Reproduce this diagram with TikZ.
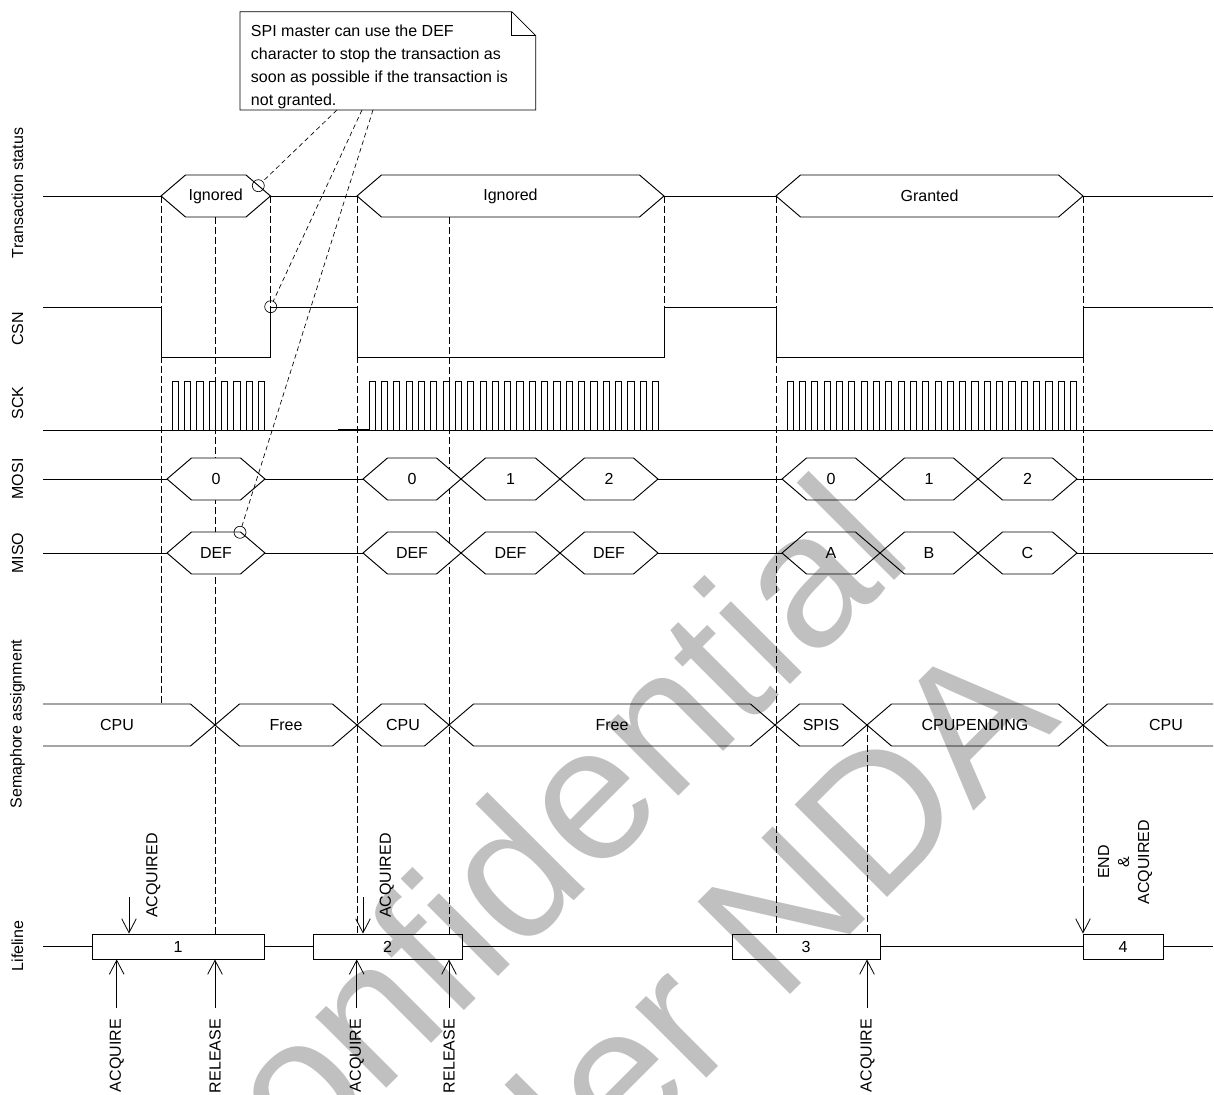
\documentclass[tikz,border=0pt]{standalone}
\usepackage{fontspec}
\setmainfont{Liberation Sans}
\usetikzlibrary{arrows.meta,positioning,calc}
\definecolor{wmgray}{RGB}{192,192,192}

% one bus value: x1, x2, y, node name, text
\newcommand{\busseg}[5]{%
  \draw[bus] (#1,#3) -- ({#1+24.5},{#3-21}) -- ({#2-24.5},{#3-21})
    -- (#2,#3) -- ({#2-24.5},{#3+21}) -- ({#1+24.5},{#3+21}) -- cycle;
  \node (#4) at ({(#1+#2)/2},#3) {#5};}

\tikzset{
  sig/.style={line width=0.7pt},
  guide/.style={line width=0.6pt,dash pattern=on 5pt off 2.5pt},
  notelink/.style={line width=0.5pt,dash pattern=on 3.5pt off 2.5pt},
  bus/.style={line width=0.7pt,fill=white},
  rowlabel/.style={rotate=90},
  evtext/.style={rotate=90,inner sep=0pt},
  evarrow/.style={line width=0.6pt,-{Straight Barb[length=10.5pt,width=11pt]}},
  lifebox/.style={draw,fill=white,line width=0.7pt,minimum height=18.75pt,inner sep=0pt},
  ring/.style={circle,draw,line width=0.5pt,minimum size=9pt,inner sep=0pt},
  wm/.style={rotate=45,text=wmgray,inner sep=0pt,font=\fontsize{142.5}{150}\selectfont}
}

\begin{document}
\begin{tikzpicture}[x=0.75pt,y=-0.75pt,font=\fontsize{12}{14}\selectfont]
  \useasboundingbox (0,0) rectangle (1214,1095);
  \clip (0,0) rectangle (1214,1095);

  % --- guide lines (under the bus values) -------------------------------
  \draw[guide] (161,196) -- (161,704);
  \draw[guide] (215,217) -- (215,934);
  \draw[guide] (270.5,196) -- (270.5,307);
  \draw[guide] (357,196) -- (357,934);
  \draw[guide] (449,217) -- (449,934);
  \draw[guide] (664,196) -- (664,307);
  \draw[guide] (776,196) -- (776,934);
  \draw[guide] (867,725) -- (867,934);
  \draw[guide] (1083,196) -- (1083,893);

  % --- row labels -------------------------------------------------------
  \node[rowlabel] (lblts) at (17.5,193) {Transaction status};
  \node[rowlabel] (lblcsn) at (17.5,329) {CSN};
  \node[rowlabel] (lblsck) at (17.5,403) {SCK};
  \node[rowlabel] (lblmosi) at (17.5,479) {MOSI};
  \node[rowlabel] (lblmiso) at (17.5,553) {MISO};
  \node[rowlabel] (lblsem) at (17.5,724) {Semaphore assignment};
  \node[rowlabel] (lbllife) at (17.5,946) {Lifeline};

  % --- transaction status -----------------------------------------------
  \draw[sig] (43,196) -- (1213,196);
  \busseg{161}{270.5}{196}{ts1}{Ignored}
  \busseg{357}{664}{196}{ts2}{Ignored}
  \busseg{776}{1083}{196}{ts3}{Granted}

  % --- CSN --------------------------------------------------------------
  \draw[sig] (43,307) -- (161,307) -- (161,357) -- (270.5,357) -- (270.5,307)
    -- (357,307) -- (357,357) -- (664,357) -- (664,307) -- (776,307)
    -- (776,357) -- (1083,357) -- (1083,307) -- (1213,307);

  % --- SCK --------------------------------------------------------------
  \draw[sig] (43,430) -- (1213,430);
  \draw[line width=1.4pt] (338,430) -- (369,430);
  \foreach \i in {0,...,7}
    \draw[sig] ({172.3+\i*12.33},430) -- ({172.3+\i*12.33},381)
      -- ({178.5+\i*12.33},381) -- ({178.5+\i*12.33},430);
  \foreach \i in {0,...,23}{
    \draw[sig] ({369+\i*12.33},430) -- ({369+\i*12.33},381)
      -- ({375.2+\i*12.33},381) -- ({375.2+\i*12.33},430);
    \draw[sig] ({787+\i*12.33},430) -- ({787+\i*12.33},381)
      -- ({793.2+\i*12.33},381) -- ({793.2+\i*12.33},430);
  }

  % --- MOSI / MISO ------------------------------------------------------
  \draw[sig] (43,479) -- (1213,479);
  \busseg{167}{265}{479}{mosia}{0}
  \busseg{363}{461}{479}{mosib}{0}
  \busseg{461}{560}{479}{mosic}{1}
  \busseg{560}{658}{479}{mosid}{2}
  \busseg{782}{880}{479}{mosie}{0}
  \busseg{880}{978}{479}{mosif}{1}
  \busseg{978}{1077}{479}{mosig}{2}
  \draw[sig] (43,553) -- (1213,553);
  \busseg{167}{265}{553}{misoa}{DEF}
  \busseg{363}{461}{553}{misob}{DEF}
  \busseg{461}{560}{553}{misoc}{DEF}
  \busseg{560}{658}{553}{misod}{DEF}
  \busseg{782}{880}{553}{misoe}{A}
  \busseg{880}{978}{553}{misof}{B}
  \busseg{978}{1077}{553}{misog}{C}

  % --- semaphore assignment ---------------------------------------------
  \draw[sig] (43,704) -- (190.5,704) -- (215,725) -- (190.5,746) -- (43,746);
  \node (sema) at (117,725) {CPU};
  \busseg{215}{357}{725}{semb}{Free}
  \busseg{357}{449}{725}{semc}{CPU}
  \busseg{449}{775}{725}{semd}{Free}
  \busseg{775}{867}{725}{seme}{SPIS}
  \busseg{867}{1083}{725}{semf}{CPUPENDING}
  \draw[sig] (1213,704) -- (1107.5,704) -- (1083,725) -- (1107.5,746) -- (1213,746);
  \node (semg) at (1166,725) {CPU};

  % --- lifeline ---------------------------------------------------------
  \draw[sig] (43,946.5) -- (1213,946.5);
  \node[lifebox,minimum width=129pt] (life1) at (178,946.5) {1};
  \node[lifebox,minimum width=111.75pt] (life2) at (387.5,946.5) {2};
  \node[lifebox,minimum width=111pt] (life3) at (806,946.5) {3};
  \node[lifebox,minimum width=60pt] (life4) at (1123,946.5) {4};

  % events from below
  \coordinate (acqa) at (116.7,1008);
  \coordinate (rela) at (215,1008);
  \coordinate (acqb) at (356.7,1008);
  \coordinate (relb) at (449,1008);
  \coordinate (acqc) at (867,1008);
  \draw[evarrow] (acqa) -- (acqa |- life1.south);
  \draw[evarrow] (rela) -- (rela |- life1.south);
  \draw[evarrow] (acqb) -- (acqb |- life2.south);
  \draw[evarrow] (relb) -- (relb |- life2.south);
  \draw[evarrow] (acqc) -- (acqc |- life3.south);
  \node[evtext,anchor=east] (tacqa) at (116.7,1019) {ACQUIRE};
  \node[evtext,anchor=east] (trela) at (215,1019) {RELEASE};
  \node[evtext,anchor=east] (tacqb) at (356.7,1019) {ACQUIRE};
  \node[evtext,anchor=east] (trelb) at (449,1019) {RELEASE};
  \node[evtext,anchor=east] (tacqc) at (867.5,1019) {ACQUIRE};

  % events from above
  \coordinate (gota) at (129,897);
  \coordinate (gotb) at (363,897);
  \coordinate (gotc) at (1083,893);
  \draw[evarrow] (gota) -- (gota |- life1.north);
  \draw[evarrow] (gotb) -- (gotb |- life2.north);
  \draw[evarrow] (gotc) -- (gotc |- life4.north);
  \node[evtext,anchor=west] (tgota) at (153.3,918) {ACQUIRED};
  \node[evtext,anchor=west] (tgotb) at (386.7,918) {ACQUIRED};
  \node[rotate=90,align=center,font=\fontsize{12}{15}\selectfont] (tgotc) at (1125,862) {END\\\&\\ACQUIRED};

  % --- note -------------------------------------------------------------
  \draw[line width=0.6pt] (240,11.7) -- (511.8,11.7) -- (535.8,35.7) -- (535.8,110)
    -- (240,110) -- cycle;
  \draw[line width=0.6pt] (511.8,11.7) -- (511.8,35.7) -- (535.8,35.7);
  \node[align=left,anchor=north west,inner sep=0pt,font=\fontsize{12}{17.2}\selectfont]
    (note) at (250.7,25)
    {SPI master can use the DEF\\character to stop the transaction as\\soon as possible if the transaction is\\not granted.};
  \coordinate (notea) at (337,110);
  \coordinate (noteb) at (362,110);
  \coordinate (notec) at (373,110);
  \node[ring] (ringts) at (258.3,185.7) {};
  \node[ring] (ringcsn) at (270.7,306.7) {};
  \node[ring] (ringmiso) at (240,532.3) {};
  \draw[notelink] (notea) -- (ringts);
  \draw[notelink] (noteb) -- (ringcsn);
  \draw[notelink] (notec) -- (ringmiso);

  % --- watermark --------------------------------------------------------
  \begin{scope}[blend mode=multiply]
    \node[wm,anchor=base west] (wmtop) at (206,1269) {Confidential};
    \node[wm,anchor=base west] (wmbot) at (399,1386) {under NDA};
  \end{scope}
\end{tikzpicture}
\end{document}
